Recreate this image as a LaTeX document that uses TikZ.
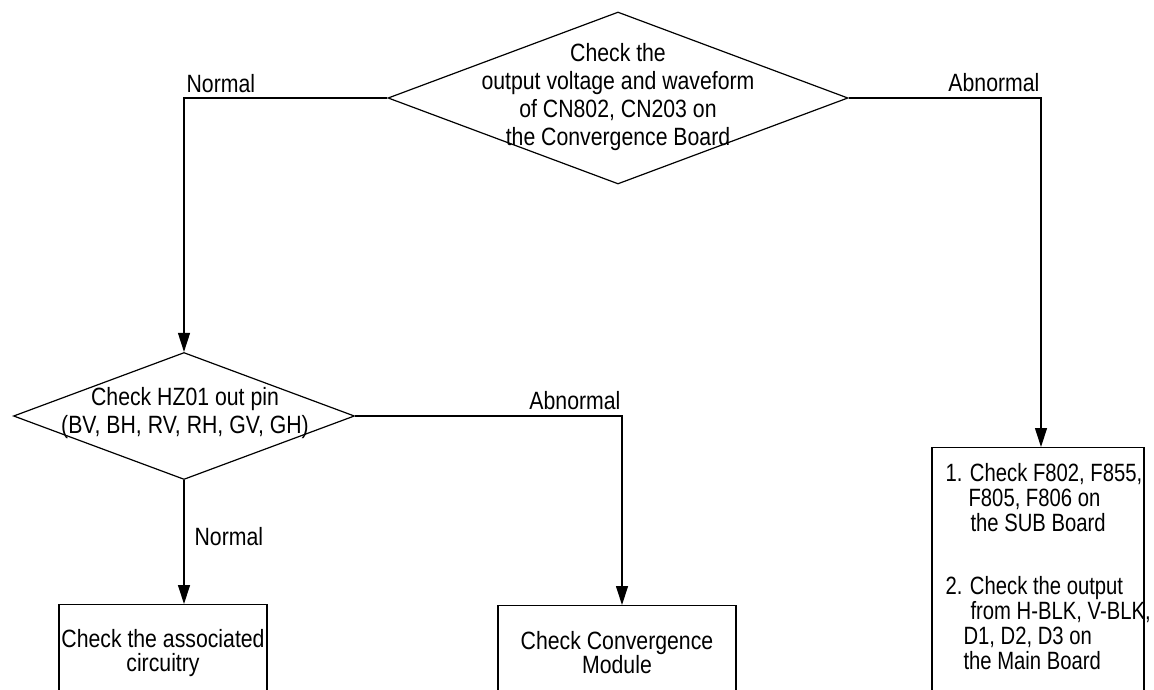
\documentclass[tikz,border=0pt]{standalone}
\usepackage{fontspec}
\setmainfont[FakeStretch=0.85]{Liberation Sans}
\newfontfamily\subfont[FakeStretch=0.81]{Liberation Sans}
\usetikzlibrary{shapes.geometric,arrows.meta}

\begin{document}
\begin{tikzpicture}[x=1pt, y=-1pt, line width=1.2pt,
    decision/.style={draw, diamond, inner sep=0pt},
    chkbox/.style={draw, rectangle, inner sep=0pt, align=center},
    lbl/.style={inner sep=0pt, align=center, font=\fontsize{25}{24}\selectfont},
    dlbl/.style={lbl, font=\fontsize{25}{28}\selectfont},
    flow/.style={-{Triangle[length=19pt, width=12pt]}}]
    \useasboundingbox (0, 0) rectangle (1154, 690);
    \clip (0, 0) rectangle (1154, 690);

    % decisions
    \node[decision, minimum width=460pt, minimum height=172pt] (cvg) at (618, 98) {};
    \node[dlbl] (cvgtxt) at (618, 97.5) {Check the\\output voltage and waveform\\of CN802, CN203 on\\the Convergence Board};
    \node[decision, minimum width=341pt, minimum height=127pt] (hz) at (184, 416) {};
    \node[dlbl] (hztxt) at (185, 413.5) {Check HZ01 out pin\\(BV, BH, RV, RH, GV, GH)};

    % boxes, open at the bottom
    \node[chkbox, lbl, minimum width=208pt, minimum height=97pt, anchor=north] (assoc) at (163, 604) {Check the associated\\circuitry};
    \node[chkbox, lbl, minimum width=238pt, minimum height=93pt, anchor=north] (conv) at (617, 605) {Check Convergence\\Module};
    \node[chkbox, minimum width=212pt, minimum height=260pt, anchor=north] (sub) at (1038, 447) {};
    \node[lbl, align=left, font=\subfont\fontsize{25}{25}\selectfont, anchor=north west] (subtxt) at (945, 463)
        {1. Check F802, F855,\\\hspace*{23pt}F805, F806 on\\\hspace*{25pt}the SUB Board\\[38pt]
         2. Check the output\\\hspace*{25pt}from H-BLK, V-BLK,\\\hspace*{18pt}D1, D2, D3 on\\\hspace*{18pt}the Main Board};

    % connectors
    \draw[flow] (cvg.west) -| (hz.north);
    \draw[flow] (cvg.east) -| ([xshift=3pt]sub.north);
    \draw[flow] (hz.east) -| ([xshift=5pt]conv.north);
    \draw[flow] (hz.south) -- (hz.south |- assoc.north);

    % branch labels
    \node[lbl, anchor=base west] (nrm1) at (186, 93) {Normal};
    \node[lbl, anchor=base east] (abn1) at (1040, 92) {Abnormal};
    \node[lbl, anchor=base east] (abn2) at (621, 409) {Abnormal};
    \node[lbl, anchor=base west] (nrm2) at (194, 545) {Normal};
\end{tikzpicture}
\end{document}
